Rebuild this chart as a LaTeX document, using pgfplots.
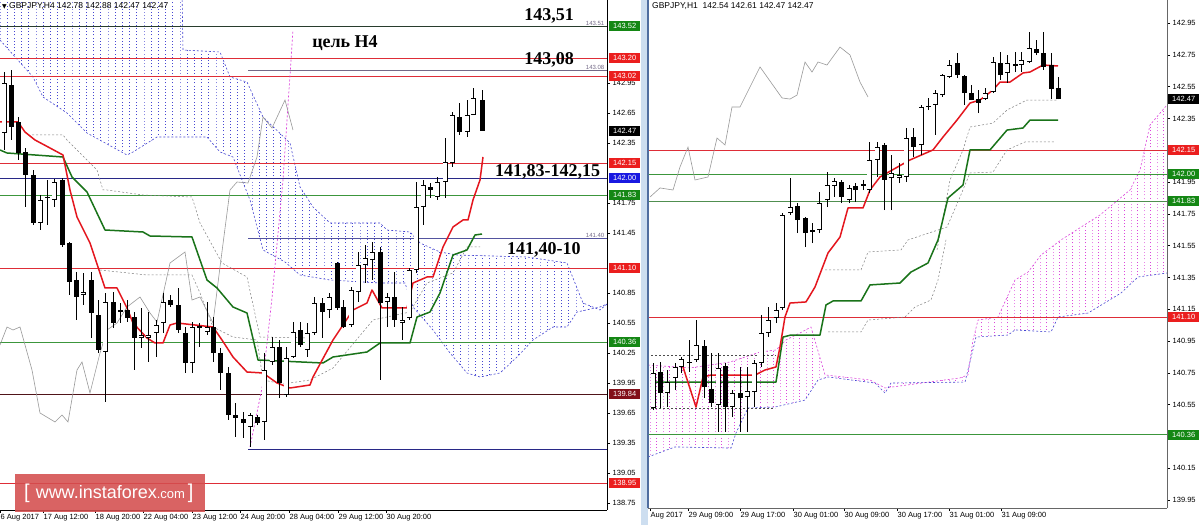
\documentclass[border=0pt]{standalone}
\usepackage{fontspec}
\setmainfont{Liberation Sans}
\newfontfamily\timesf{Liberation Serif}
\newfontfamily\dejavu{DejaVu Sans}
\usepackage{pgfplots}
\pgfplotsset{compat=1.18}
\usetikzlibrary{patterns}

\definecolor{tenkan}{RGB}{228,22,30}
\definecolor{kijun}{RGB}{25,115,25}
\definecolor{lnred}{RGB}{222,45,55}
\definecolor{lngreen}{RGB}{60,150,60}
\definecolor{lndark}{RGB}{40,60,45}
\definecolor{navy}{RGB}{40,40,135}
\definecolor{lngray}{RGB}{115,105,135}
\definecolor{maroon}{RGB}{80,20,25}
\definecolor{cloudblue}{RGB}{70,70,210}
\definecolor{cloudpink}{RGB}{220,70,220}
\definecolor{boxgreen}{RGB}{20,135,20}
\definecolor{boxred}{RGB}{235,30,30}
\definecolor{boxblue}{RGB}{25,25,225}
\definecolor{boxmaroon}{RGB}{130,15,25}
\definecolor{wm}{RGB}{212,78,78}
\definecolor{sepblue}{RGB}{205,222,240}
\definecolor{sepline}{RGB}{80,110,160}

\pgfdeclarepatternformonly{vdashesL}{\pgfqpoint{-0.6pt}{-0.6pt}}{\pgfqpoint{0.6pt}{1.6pt}}{\pgfqpoint{7.2pt}{3.2pt}}{%
  \pgfsetlinewidth{0.9pt}\pgfpathmoveto{\pgfqpoint{0pt}{0pt}}\pgfpathlineto{\pgfqpoint{0pt}{1pt}}\pgfusepath{stroke}}
\pgfdeclarepatternformonly{vdashesR}{\pgfqpoint{-0.6pt}{-0.6pt}}{\pgfqpoint{0.6pt}{1.6pt}}{\pgfqpoint{6.5pt}{3.2pt}}{%
  \pgfsetlinewidth{0.9pt}\pgfpathmoveto{\pgfqpoint{0pt}{0pt}}\pgfpathlineto{\pgfqpoint{0pt}{1pt}}\pgfusepath{stroke}}

% candle: x, open, high, low, close
\newcommand\cndl[5]{%
  \addplot[black, line width=0.6pt] coordinates {(#1,#4) (#1,#3)};
  \ifdim #5pt<#2pt
    \addplot[black, line width=5pt, line cap=butt] coordinates {(#1,#5) (#1,#2)};
  \else
    \addplot[black, line width=5pt, line cap=butt] coordinates {(#1,#2) (#1,#5)};
    \addplot[white, line width=3.6pt, line cap=butt, shorten <=0.7pt, shorten >=0.7pt] coordinates {(#1,#2) (#1,#5)};
  \fi}

\pgfplotsset{mt/.style={scale only axis, axis x line*=bottom, axis y line*=right,
  tick align=outside, major tick length=3pt, tick style={black, line width=0.5pt},
  axis line style={line width=0.7pt},
  scaled y ticks=false,
  yticklabel style={font=\fontsize{7.5}{8}\selectfont, inner sep=0.5pt, xshift=2pt,
    /pgf/number format/fixed, /pgf/number format/fixed zerofill,
    /pgf/number format/precision=2, /pgf/number format/assume math mode=true},
  xticklabel style={font=\fontsize{7.5}{8}\selectfont, anchor=north west, inner sep=0.5pt, yshift=-1pt},
  clip=true}}

\tikzset{pl/.style={anchor=west, text=white, inner xsep=1.5pt, inner ysep=1pt,
  minimum height=10pt, minimum width=31pt, font=\fontsize{7.5}{8}\selectfont}}

\begin{document}
\begin{tikzpicture}
\useasboundingbox (0pt,0pt) rectangle (1200pt,525pt);
\fill[white] (0pt,0pt) rectangle (1200pt,525pt);
\fill[sepblue] (641pt,0pt) rectangle (648pt,525pt);

%================ LEFT PANEL (H4) =================
\begin{axis}[mt, at={(0pt,15pt)}, anchor=south west, width=607pt, height=510pt,
  xmin=0, xmax=607, ymin=138.68, ymax=143.78,
  ytick={138.75,139.05,139.35,139.65,139.95,140.25,140.55,140.85,141.45,141.75,142.35,142.65,142.95},
  xtick={0,43,95,143,192,240,289,338,386},
  xticklabels={6 Aug 2017,17 Aug 12:00,18 Aug 20:00,22 Aug 04:00,23 Aug 12:00,24 Aug 20:00,28 Aug 04:00,29 Aug 12:00,30 Aug 20:00}]

% cloud (top edge left to right, then bottom edge right to left)
\addplot[draw=none, pattern=vdashesL, pattern color=cloudblue] coordinates {
(0,143.88) (182,143.88) (183,143.28) (220,143.26) (230,143.01) (247,142.96) (263,142.61) (290,142.35) (300,141.91) (313,141.71) (330,141.55) (380,141.55) (387,141.48) (410,141.46) (420,141.35) (440,141.26) (457,141.23) (527,141.21) (567,141.15) (583,140.75) (600,140.68) (607,140.74)
(600,140.71) (577,140.66) (567,140.51) (553,140.51) (533,140.38) (517,140.21) (500,140.05) (480,140.01) (467,140.05) (450,140.25) (433,140.48) (413,140.71) (405,140.95) (380,140.95) (330,140.98) (300,141.03) (285,141.16) (263,141.28) (250,141.78) (233,142.21) (220,142.26) (207,142.41) (157,142.41) (133,142.26) (127,142.23) (87,142.45) (67,142.65) (43,142.81) (33,143.01) (0,143.38)};
\addplot[draw=cloudblue, dash pattern=on 2pt off 2pt, line width=0.6pt] coordinates {
(0,143.88) (182,143.88) (183,143.28) (220,143.26) (230,143.01) (247,142.96) (263,142.61) (290,142.35) (300,141.91) (313,141.71) (330,141.55) (380,141.55) (387,141.48) (410,141.46) (420,141.35) (440,141.26) (457,141.23) (527,141.21) (567,141.15) (583,140.75) (600,140.68) (607,140.74)};
\addplot[draw=cloudblue, dash pattern=on 2pt off 2pt, line width=0.6pt] coordinates {
(0,143.38) (33,143.01) (43,142.81) (67,142.65) (87,142.45) (127,142.23) (133,142.26) (157,142.41) (207,142.41) (220,142.26) (233,142.21) (250,141.78) (263,141.28) (285,141.16) (300,141.03) (330,140.98) (380,140.95) (405,140.95) (413,140.71) (433,140.48) (450,140.25) (467,140.05) (480,140.01) (500,140.05) (517,140.21) (533,140.38) (553,140.51) (567,140.51) (577,140.66) (600,140.71) (607,140.74)};

% horizontal levels
\addplot[draw=lndark, line width=0.9pt] coordinates {(0,143.52) (607,143.52)};
\addplot[draw=lnred, line width=0.8pt] coordinates {(0,143.20) (607,143.20)};
\addplot[draw=lngray, line width=0.9pt] coordinates {(248,143.08) (607,143.08)};
\addplot[draw=lnred, line width=0.8pt] coordinates {(0,143.02) (607,143.02)};
\addplot[draw=lnred, line width=0.8pt] coordinates {(0,142.15) (607,142.15)};
\addplot[draw=navy, line width=0.8pt] coordinates {(0,142.00) (607,142.00)};
\addplot[draw=lngreen, line width=0.8pt] coordinates {(0,141.83) (607,141.83)};
\addplot[draw=navy!80, line width=0.9pt] coordinates {(248,141.40) (607,141.40)};
\addplot[draw=lnred, line width=0.8pt] coordinates {(0,141.10) (607,141.10)};
\addplot[draw=lngreen, line width=0.8pt] coordinates {(0,140.36) (607,140.36)};
\addplot[draw=maroon, line width=0.8pt] coordinates {(0,139.84) (607,139.84)};
\addplot[draw=navy, line width=0.8pt] coordinates {(248,139.29) (607,139.29)};
\addplot[draw=lnred, line width=0.8pt] coordinates {(0,138.95) (607,138.95)};

% other dashed lines
\addplot[draw=gray, dash pattern=on 2pt off 2pt, line width=0.5pt] coordinates {
(32,142.43) (63,142.43) (67,142.38) (97,142.08) (103,141.88) (107,141.88) (143,141.83) (192,141.81) (200,141.55) (222,141.15) (247,141.01) (260,140.41) (310,140.40)};
\addplot[draw=gray, dash pattern=on 2pt off 2pt, line width=0.5pt] coordinates {
(100,141.08) (147,141.03) (192,141.03) (200,140.85) (213,140.51) (233,140.41) (257,140.38) (263,139.98) (283,139.94) (310,139.98) (333,140.10) (373,140.58) (410,140.66) (427,140.95) (453,141.05) (467,141.31) (480,141.31)};
\addplot[draw=cloudpink, dash pattern=on 2pt off 2pt, line width=0.7pt] coordinates {
(250,139.31) (262,139.90) (272,140.80) (283,141.98) (293,143.48)};

% chikou
\addplot[draw=gray!80, line width=0.6pt] coordinates {
(0,140.33) (7,140.51) (13,140.48) (20,140.51) (32,140.08) (40,139.65) (55,139.56) (62,139.63) (68,139.56) (77,140.08) (82,140.16) (90,139.85) (100,140.25) (107,140.48) (117,140.55) (127,140.71) (140,140.81) (150,140.65) (157,140.56) (170,141.15) (185,141.26) (192,140.78) (200,140.81) (213,140.55) (220,141.11) (230,141.88) (237,141.96) (248,141.95) (257,142.21) (263,142.61) (272,142.50) (285,142.78) (293,142.48)};
% kijun
\addplot[draw=kijun, line width=1.5pt, line join=round] coordinates {
(0,142.28) (7,142.25) (63,142.21) (72,142.01) (87,141.86) (105,141.48) (143,141.46) (150,141.42) (192,141.41) (207,140.98) (217,140.90) (233,140.71) (247,140.65) (258,140.18) (323,140.15) (333,140.21) (367,140.26) (380,140.35) (410,140.35) (417,140.61) (430,140.66) (440,140.85) (453,141.23) (467,141.28) (475,141.43) (482,141.44)};
% tenkan
\addplot[draw=tenkan, line width=1.5pt, line join=round] coordinates {
(0,142.56) (18,142.56) (25,142.46) (35,142.38) (50,142.30) (63,142.23) (70,141.88) (77,141.61) (90,141.35) (98,141.11) (105,140.90) (117,140.90) (127,140.70) (133,140.55) (147,140.40) (155,140.35) (163,140.35) (170,140.53) (177,140.55) (213,140.51) (222,140.38) (233,140.21) (247,140.06) (263,140.05) (277,139.95) (290,139.90) (310,139.93) (313,140.01) (333,140.38) (353,140.68) (367,140.75) (372,140.88) (382,140.70) (407,140.70) (413,140.95) (427,141.01) (433,141.01) (443,141.31) (453,141.51) (463,141.58) (468,141.58) (473,141.78) (480,141.98) (483,142.21)};

% candles
\cndl{4}{142.45}{143.06}{142.28}{142.95}
\cndl{11}{142.93}{143.08}{142.38}{142.51}
\cndl{18}{142.56}{142.61}{142.18}{142.25}
\cndl{25}{142.26}{142.30}{141.71}{142.03}
\cndl{33}{142.03}{142.08}{141.53}{141.55}
\cndl{40}{141.55}{141.83}{141.48}{141.78}
\cndl{47}{141.81}{141.98}{141.53}{141.80}
\cndl{54}{141.78}{141.99}{141.71}{141.96}
\cndl{62}{141.98}{142.00}{141.31}{141.33}
\cndl{69}{141.35}{141.36}{140.83}{140.96}
\cndl{76}{140.98}{141.06}{140.58}{140.81}
\cndl{83}{140.83}{141.05}{140.73}{140.86}
\cndl{91}{140.98}{141.06}{140.40}{140.65}
\cndl{98}{140.63}{140.78}{140.25}{140.28}
\cndl{105}{140.26}{140.85}{139.76}{140.76}
\cndl{113}{140.76}{140.86}{140.50}{140.55}
\cndl{120}{140.68}{140.75}{140.55}{140.66}
\cndl{127}{140.68}{140.78}{140.56}{140.60}
\cndl{134}{140.61}{140.66}{140.08}{140.40}
\cndl{141}{140.40}{140.70}{140.30}{140.43}
\cndl{148}{140.40}{140.66}{140.16}{140.43}
\cndl{156}{140.45}{140.58}{140.21}{140.53}
\cndl{163}{140.55}{140.85}{140.45}{140.76}
\cndl{170}{140.78}{140.83}{140.71}{140.73}
\cndl{178}{140.73}{140.90}{140.45}{140.48}
\cndl{185}{140.45}{140.51}{140.05}{140.15}
\cndl{192}{140.15}{140.56}{140.05}{140.51}
\cndl{199}{140.52}{140.55}{140.31}{140.50}
\cndl{207}{140.46}{140.76}{140.43}{140.51}
\cndl{213}{140.51}{140.61}{140.16}{140.25}
\cndl{220}{140.25}{140.30}{139.88}{140.05}
\cndl{228}{140.05}{140.11}{139.58}{139.63}
\cndl{235}{139.63}{139.75}{139.41}{139.60}
\cndl{243}{139.59}{139.66}{139.40}{139.55}
\cndl{250}{139.51}{139.65}{139.31}{139.63}
\cndl{257}{139.61}{139.63}{139.53}{139.55}
\cndl{264}{139.56}{140.25}{139.38}{140.08}
\cndl{272}{140.16}{140.41}{140.13}{140.31}
\cndl{279}{140.31}{140.38}{139.80}{139.95}
\cndl{286}{139.83}{140.31}{139.81}{140.20}
\cndl{293}{140.21}{140.56}{140.20}{140.46}
\cndl{300}{140.48}{140.56}{140.31}{140.33}
\cndl{307}{140.28}{140.55}{140.21}{140.45}
\cndl{314}{140.45}{140.81}{140.43}{140.75}
\cndl{322}{140.75}{140.80}{140.40}{140.66}
\cndl{329}{140.68}{140.85}{140.60}{140.81}
\cndl{337}{141.15}{141.16}{140.68}{140.70}
\cndl{343}{140.71}{140.78}{140.50}{140.51}
\cndl{351}{140.53}{140.91}{140.51}{140.88}
\cndl{358}{140.86}{141.26}{140.76}{141.13}
\cndl{365}{141.13}{141.33}{140.95}{141.20}
\cndl{372}{141.18}{141.36}{140.98}{141.26}
\cndl{380}{141.26}{141.31}{139.98}{140.75}
\cndl{387}{140.76}{140.85}{140.51}{140.81}
\cndl{394}{140.81}{141.06}{140.51}{140.58}
\cndl{402}{140.55}{140.71}{140.38}{140.58}
\cndl{409}{140.60}{141.10}{140.58}{141.08}
\cndl{416}{141.08}{141.96}{141.05}{141.71}
\cndl{423}{141.71}{141.98}{141.53}{141.93}
\cndl{430}{141.91}{141.95}{141.80}{141.88}
\cndl{437}{141.81}{142.01}{141.78}{141.96}
\cndl{445}{141.96}{142.40}{141.80}{142.16}
\cndl{452}{142.15}{142.66}{142.11}{142.63}
\cndl{459}{142.61}{142.75}{142.43}{142.46}
\cndl{467}{142.46}{142.78}{142.41}{142.63}
\cndl{473}{142.63}{142.90}{142.63}{142.80}
\cndl{482}{142.78}{142.88}{142.47}{142.47}

\coordinate (a1) at (axis cs:607,143.52);
\coordinate (a2) at (axis cs:607,143.20);
\coordinate (a3) at (axis cs:607,143.02);
\coordinate (a4) at (axis cs:607,142.47);
\coordinate (a5) at (axis cs:607,142.15);
\coordinate (a6) at (axis cs:607,142.00);
\coordinate (a7) at (axis cs:607,141.83);
\coordinate (a8) at (axis cs:607,141.10);
\coordinate (a9) at (axis cs:607,140.36);
\coordinate (a10) at (axis cs:607,139.84);
\coordinate (a11) at (axis cs:607,138.95);
\coordinate (s1) at (axis cs:605,143.52);
\coordinate (s2) at (axis cs:605,143.08);
\coordinate (s3) at (axis cs:605,141.40);
\end{axis}

%================ RIGHT PANEL (H1) =================
\begin{axis}[mt, at={(648pt,17pt)}, anchor=south west, width=519pt, height=508pt,
  xmin=648, xmax=1167, ymin=139.90, ymax=143.095,
  axis line style={line width=0.8pt, draw=gray!80!black},
  ytick={139.95,140.15,140.55,140.75,140.95,141.15,141.35,141.55,141.75,141.95,142.35,142.55,142.75,142.95},
  xtick={650,688,740,793,844,897,949,1001},
  xticklabels={Aug 2017,29 Aug 09:00,29 Aug 17:00,30 Aug 01:00,30 Aug 09:00,30 Aug 17:00,31 Aug 01:00,31 Aug 09:00}]

\addplot[draw=none, pattern=vdashesR, pattern color=cloudpink] coordinates {
(648,140.799) (690,140.781) (730,140.818) (760,140.881) (776,140.894) (786,140.957) (800,141.001) (811,141.038) (825,140.737) (870,140.705) (885,140.655) (960,140.718) (968,140.737) (973,140.957) (978,141.082) (998,141.101) (1015,141.334) (1028,141.384) (1041,141.491) (1061,141.586) (1100,141.743) (1130,141.900) (1140,142.026) (1150,142.309) (1167,142.435)
(1167,141.378) (1138,141.353) (1121,141.252) (1088,141.126) (1058,141.101) (1051,141.007) (1015,141.020) (1008,140.988) (976,140.975) (965,140.692) (891,140.686) (885,140.623) (875,140.686) (828,140.724) (818,140.705) (805,140.579) (775,140.535) (748,140.529) (736,140.372) (731,140.277) (675,140.284) (648,140.221)};
\addplot[draw=cloudpink, dash pattern=on 2pt off 2pt, line width=0.6pt] coordinates {
(648,140.799) (690,140.781) (730,140.818) (760,140.881) (776,140.894) (786,140.957) (800,141.001) (811,141.038) (825,140.737) (870,140.705) (885,140.655) (960,140.718) (968,140.737) (973,140.957) (978,141.082) (998,141.101) (1015,141.334) (1028,141.384) (1041,141.491) (1061,141.586) (1100,141.743) (1130,141.900) (1140,142.026) (1150,142.309) (1167,142.435)};
\addplot[draw=cloudblue, dash pattern=on 2pt off 2pt, line width=0.6pt] coordinates {
(648,140.221) (675,140.284) (731,140.277) (736,140.372) (748,140.529) (775,140.535) (805,140.579) (818,140.705) (828,140.724) (875,140.686) (885,140.623) (891,140.686) (965,140.692) (976,140.975) (1008,140.988) (1015,141.020) (1051,141.007) (1058,141.101) (1088,141.126) (1121,141.252) (1138,141.353) (1167,141.378)};

\addplot[draw=lnred, line width=0.8pt] coordinates {(648,142.15) (1167,142.15)};
\addplot[draw=lngreen, line width=0.8pt] coordinates {(648,142.00) (1167,142.00)};
\addplot[draw=lngreen!70!gray, line width=0.8pt] coordinates {(648,141.83) (1167,141.83)};
\addplot[draw=lnred, line width=0.8pt] coordinates {(648,141.10) (1167,141.10)};
\addplot[draw=lngreen, line width=0.8pt] coordinates {(648,140.36) (1167,140.36)};

\addplot[draw=black!70, dash pattern=on 2pt off 2pt, line width=0.5pt] coordinates {(651,140.862) (776,140.862)};
\addplot[draw=black!70, dash pattern=on 2pt off 2pt, line width=0.5pt] coordinates {(651,140.529) (775,140.529)};
\addplot[draw=gray, dash pattern=on 2pt off 2pt, line width=0.5pt] coordinates {
(937,141.523) (950,141.963) (963,142.152) (970,142.296) (993,142.321) (1007,142.403) (1027,142.466) (1058,142.466)};
\addplot[draw=gray, dash pattern=on 2pt off 2pt, line width=0.5pt] coordinates {
(825,141.397) (861,141.397) (868,141.510) (901,141.523) (908,141.586) (947,141.667) (960,141.856) (970,142.007) (993,142.013) (1007,142.152) (1025,142.202) (1055,142.202)};
\addplot[draw=gray, dash pattern=on 2pt off 2pt, line width=0.5pt] coordinates {
(828,141.007) (861,141.007) (868,141.082) (905,141.101) (915,141.164) (931,141.208) (938,141.334) (946,141.586)};

% chikou
\addplot[draw=gray!80, line width=0.6pt] coordinates {
(650,141.856) (660,141.913) (673,141.900) (680,142.045) (688,142.170) (695,141.963) (708,141.982) (717,142.227) (725,142.183) (732,142.422) (740,142.422) (760,142.674) (782,142.479) (790,142.472) (797,142.497) (805,142.705) (812,142.642) (818,142.705) (827,142.686) (840,142.799) (850,142.749) (860,142.579) (868,142.485)};
% kijun
\addplot[draw=kijun, line width=1.5pt, line join=round] coordinates {
(653,140.692) (776,140.692) (783,140.975) (791,140.988) (820,140.988) (826,141.177) (833,141.202) (861,141.202) (870,141.303) (900,141.315) (911,141.384) (928,141.441) (938,141.586) (948,141.850) (963,141.931) (970,142.152) (990,142.152) (1007,142.277) (1023,142.290) (1030,142.340) (1058,142.340)};
% tenkan
\addplot[draw=tenkan, line width=1.5pt, line join=round] coordinates {
(683,140.787) (696,140.535) (703,140.724) (711,140.736) (755,140.736) (765,140.768) (776,140.787) (780,140.913) (785,141.102) (790,141.189) (806,141.196) (815,141.290) (828,141.504) (840,141.604) (848,141.787) (863,141.787) (870,141.900) (880,141.982) (910,142.089) (933,142.152) (943,142.233) (957,142.340) (970,142.447) (980,142.466) (993,142.529) (1000,142.579) (1010,142.579) (1023,142.636) (1030,142.642) (1043,142.686) (1058,142.680)};

\cndl{653}{140.529}{140.812}{140.516}{140.749}
\cndl{660}{140.755}{140.818}{140.529}{140.623}
\cndl{667}{140.623}{140.768}{140.535}{140.693}
\cndl{675}{140.718}{140.812}{140.642}{140.787}
\cndl{681}{140.787}{140.850}{140.749}{140.837}
\cndl{689}{140.820}{140.957}{140.755}{140.815}
\cndl{696}{140.831}{141.082}{140.818}{140.925}
\cndl{704}{140.919}{140.957}{140.592}{140.661}
\cndl{711}{140.648}{140.875}{140.535}{140.560}
\cndl{718}{140.548}{140.875}{140.378}{140.781}
\cndl{725}{140.793}{140.812}{140.378}{140.535}
\cndl{732}{140.535}{140.642}{140.472}{140.623}
\cndl{740}{140.623}{140.787}{140.378}{140.592}
\cndl{747}{140.598}{140.787}{140.378}{140.636}
\cndl{754}{140.629}{140.831}{140.535}{140.812}
\cndl{761}{140.812}{141.114}{140.787}{141.001}
\cndl{768}{141.001}{141.164}{140.975}{141.082}
\cndl{776}{141.095}{141.189}{141.063}{141.145}
\cndl{782}{141.158}{141.755}{141.145}{141.743}
\cndl{790}{141.755}{141.975}{141.743}{141.793}
\cndl{797}{141.799}{141.818}{141.629}{141.711}
\cndl{805}{141.724}{141.730}{141.541}{141.629}
\cndl{812}{141.648}{141.692}{141.566}{141.636}
\cndl{819}{141.648}{141.887}{141.629}{141.818}
\cndl{827}{141.837}{142.013}{141.793}{141.931}
\cndl{834}{141.925}{141.975}{141.856}{141.957}
\cndl{841}{141.950}{141.963}{141.818}{141.856}
\cndl{849}{141.837}{141.931}{141.818}{141.913}
\cndl{855}{141.925}{141.944}{141.825}{141.900}
\cndl{863}{141.935}{141.963}{141.900}{141.928}
\cndl{869}{141.900}{142.202}{141.881}{142.089}
\cndl{877}{142.089}{142.202}{141.982}{142.170}
\cndl{884}{142.183}{142.196}{141.774}{141.963}
\cndl{891}{141.975}{142.120}{141.774}{142.007}
\cndl{899}{141.975}{142.070}{141.944}{141.994}
\cndl{906}{141.982}{142.290}{141.950}{142.227}
\cndl{913}{142.233}{142.290}{142.107}{142.170}
\cndl{921}{142.183}{142.435}{142.120}{142.422}
\cndl{928}{142.430}{142.479}{142.403}{142.425}
\cndl{935}{142.435}{142.529}{142.246}{142.510}
\cndl{942}{142.497}{142.630}{142.485}{142.623}
\cndl{949}{142.611}{142.718}{142.604}{142.686}
\cndl{957}{142.699}{142.762}{142.604}{142.623}
\cndl{964}{142.617}{142.623}{142.435}{142.510}
\cndl{971}{142.510}{142.560}{142.466}{142.466}
\cndl{978}{142.472}{142.529}{142.384}{142.447}
\cndl{985}{142.472}{142.541}{142.466}{142.510}
\cndl{993}{142.516}{142.736}{142.510}{142.705}
\cndl{1000}{142.699}{142.768}{142.592}{142.623}
\cndl{1007}{142.636}{142.749}{142.573}{142.699}
\cndl{1015}{142.690}{142.768}{142.642}{142.683}
\cndl{1021}{142.686}{142.768}{142.642}{142.718}
\cndl{1029}{142.705}{142.894}{142.699}{142.793}
\cndl{1036}{142.787}{142.843}{142.749}{142.762}
\cndl{1043}{142.762}{142.894}{142.655}{142.674}
\cndl{1051}{142.686}{142.762}{142.472}{142.535}
\cndl{1058}{142.54}{142.61}{142.47}{142.47}

\coordinate (b1) at (axis cs:1167,142.47);
\coordinate (b2) at (axis cs:1167,142.15);
\coordinate (b3) at (axis cs:1167,142.00);
\coordinate (b4) at (axis cs:1167,141.83);
\coordinate (b5) at (axis cs:1167,141.10);
\coordinate (b6) at (axis cs:1167,140.36);
\end{axis}

\draw[sepline, line width=1.2pt] (648pt,17pt) -- (648pt,525pt);

% price boxes left
\node[pl, fill=boxgreen]  at ([xshift=2pt]a1) {143.52};
\node[pl, fill=boxred]    at ([xshift=2pt]a2) {143.20};
\node[pl, fill=boxred]    at ([xshift=2pt]a3) {143.02};
\node[pl, fill=black]     at ([xshift=2pt]a4) {142.47};
\node[pl, fill=boxred]    at ([xshift=2pt]a5) {142.15};
\node[pl, fill=boxblue]   at ([xshift=2pt]a6) {142.00};
\node[pl, fill=boxgreen]  at ([xshift=2pt]a7) {141.83};
\node[pl, fill=boxred]    at ([xshift=2pt]a8) {141.10};
\node[pl, fill=boxgreen]  at ([xshift=2pt]a9) {140.36};
\node[pl, fill=boxmaroon] at ([xshift=2pt]a10) {139.84};
\node[pl, fill=boxred]    at ([xshift=2pt]a11) {138.95};
% price boxes right
\node[pl, fill=black]    at ([xshift=1pt]b1) {142.47};
\node[pl, fill=boxred]   at ([xshift=1pt]b2) {142.15};
\node[pl, fill=boxgreen] at ([xshift=1pt]b3) {142.00};
\node[pl, fill=boxgreen] at ([xshift=1pt]b4) {141.83};
\node[pl, fill=boxred]   at ([xshift=1pt]b5) {141.10};
\node[pl, fill=boxgreen] at ([xshift=1pt]b6) {140.36};

% small level labels
\node[anchor=south east, inner sep=0.5pt, text=lngray, font=\fontsize{6}{6}\selectfont] at (s1) {143.51};
\node[anchor=south east, inner sep=0.5pt, text=lngray, font=\fontsize{6}{6}\selectfont] at (s2) {143.08};
\node[anchor=south east, inner sep=0.5pt, text=lngray, font=\fontsize{6}{6}\selectfont] at (s3) {141.40};

% annotations
\node[font=\timesf\bfseries\fontsize{18}{18}\selectfont] at (549pt,509pt) {143,51};
\node[font=\timesf\bfseries\fontsize{18}{18}\selectfont] at (345pt,482pt) {цель H4};
\node[font=\timesf\bfseries\fontsize{18}{18}\selectfont] at (549pt,465pt) {143,08};
\node[font=\timesf\bfseries\fontsize{18}{18}\selectfont, anchor=west, inner sep=0pt] at (495pt,353pt) {141,83-142,15};
\node[font=\timesf\bfseries\fontsize{18}{18}\selectfont, anchor=west, inner sep=0pt] at (507pt,275pt) {141,40-10};

% titles
\node[anchor=west, inner sep=0pt, font=\fontsize{8.5}{9}\selectfont] at (2pt,519pt) {{\dejavu\fontsize{6}{6}\selectfont ▼}\ GBPJPY,H4 142.78 142.88 142.47 142.47};
\node[anchor=west, inner sep=0pt, font=\fontsize{8.5}{9}\selectfont] at (652pt,519pt) {GBPJPY,H1\ \ 142.54 142.61 142.47 142.47};

% watermark
\fill[wm, opacity=0.88] (15pt,13pt) rectangle (205pt,51pt);
\node[anchor=west, text=white, inner sep=0pt] at (24pt,32pt) {\fontsize{20}{20}\selectfont[\hspace{6pt}\fontsize{18}{18}\selectfont www.instaforex\fontsize{13}{13}\selectfont.com\hspace{3pt}\fontsize{20}{20}\selectfont]};
\end{tikzpicture}
\end{document}
